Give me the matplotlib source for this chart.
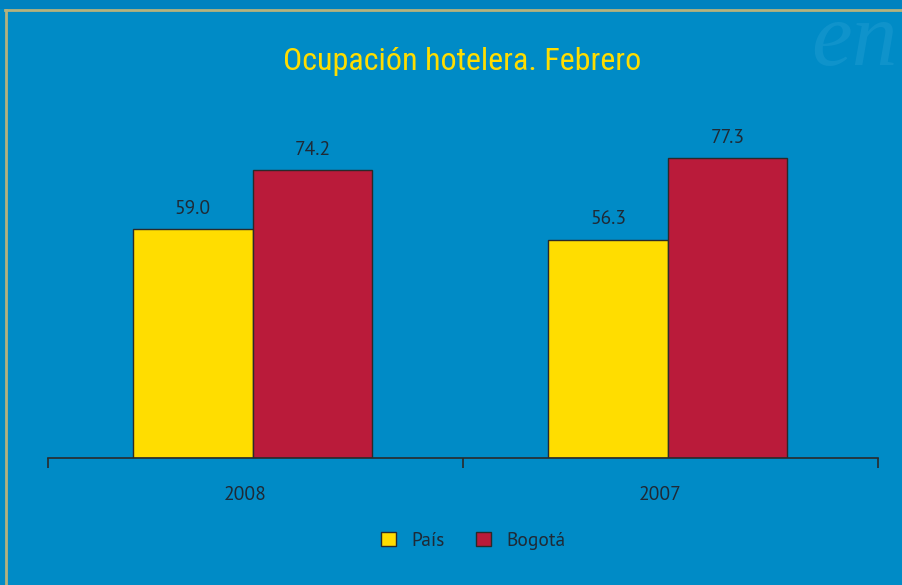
import matplotlib
matplotlib.use("Agg")
import matplotlib.pyplot as plt
from matplotlib.patches import Rectangle, Patch
from matplotlib.lines import Line2D

categories = ["2008", "2007"]
series_names = ["País", "Bogotá"]
pais = [59.0, 56.3]
bogota = [74.2, 77.3]
title = "Ocupación hotelera. Febrero"

BG = "#008BC6"
TOP = "#0082BF"
YELLOW = "#FFDD00"
RED = "#BA1B3A"
TXT = "#1F2A36"
EDGE = "#2A2A2A"
LBL_FONT = ["PT Sans", "Open Sans", "DejaVu Sans"]

W, H = 902, 585
fig = plt.figure(figsize=(W / 100, H / 100), dpi=100)
fig.patch.set_facecolor(BG)

# top darker strip and gold frame lines
fig.add_artist(Rectangle((0, 1 - 9 / H), 1, 9 / H, transform=fig.transFigure,
                         facecolor=TOP, edgecolor="none", zorder=0))
fig.add_artist(Line2D([5 / W, 1], [1 - 9.5 / H, 1 - 9.5 / H], transform=fig.transFigure,
                      color="#B5B27C", lw=2, zorder=1))
fig.add_artist(Line2D([5.5 / W, 5.5 / W], [0, 1 - 9.5 / H], transform=fig.transFigure,
                      color="#B5B27C", lw=2, zorder=1))
# faint watermark
fig.text(898 / W, 1 - 2 / H, "en", transform=fig.transFigure, fontsize=66, style="italic",
         family=["Liberation Serif", "DejaVu Serif"], color="#1C9AD0", alpha=0.55,
         ha="right", va="top", zorder=0)

fig.text(462 / W, 1 - 62 / H, title, ha="center", va="center", color=YELLOW,
         fontsize=23, family=["Roboto Condensed", "DejaVu Sans"])

ax = fig.add_axes([47.5 / W, 1 - 458 / H, 830.5 / W, 388 / H])
ax.set_facecolor("none")
xlo, xhi = -0.494, 1.506
ax.set_xlim(xlo, xhi)
ax.set_ylim(0, 100)

x = list(range(len(categories)))
bw = 0.288
b1 = ax.bar([i - bw / 2 for i in x], pais, width=bw, color=YELLOW, edgecolor=EDGE, linewidth=1, label=series_names[0])
b2 = ax.bar([i + bw / 2 for i in x], bogota, width=bw, color=RED, edgecolor=EDGE, linewidth=1, label=series_names[1])
for bars, vals in ((b1, pais), (b2, bogota)):
    for r, v in zip(bars, vals):
        ax.annotate(f"{v:.1f}", (r.get_x() + r.get_width() / 2, v), xytext=(0, 11),
                    textcoords="offset points", ha="center", va="baseline",
                    fontsize=14, color=TXT, family=LBL_FONT)

for s in ["top", "right", "left"]:
    ax.spines[s].set_visible(False)
ax.spines["bottom"].set_color(EDGE)
ax.spines["bottom"].set_linewidth(1.2)
ax.set_yticks([])
ax.set_xticks([xlo, (xlo + xhi) / 2, xhi])
ax.set_xticklabels([])
ax.tick_params(axis="x", length=7, width=1.2, color=EDGE)
for i, c in zip(x, categories):
    ax.annotate(c, (i, 0), xycoords=("data", "axes fraction"), xytext=(-5.5, -26.5),
                textcoords="offset points", ha="center", va="center",
                fontsize=14, color=TXT, family=LBL_FONT)

handles = [Patch(facecolor=YELLOW, edgecolor=EDGE, label=series_names[0]),
           Patch(facecolor=RED, edgecolor=EDGE, label=series_names[1])]
fig.legend(handles=handles, loc="center", bbox_to_anchor=(473 / W, 1 - 541 / H), ncol=2,
           frameon=False, handlelength=0.77, handleheight=0.77, handletextpad=0.8,
           columnspacing=1.6, prop={"family": LBL_FONT, "size": 14},
           labelcolor=TXT)

fig.savefig("out.png", dpi=100, facecolor=BG)
